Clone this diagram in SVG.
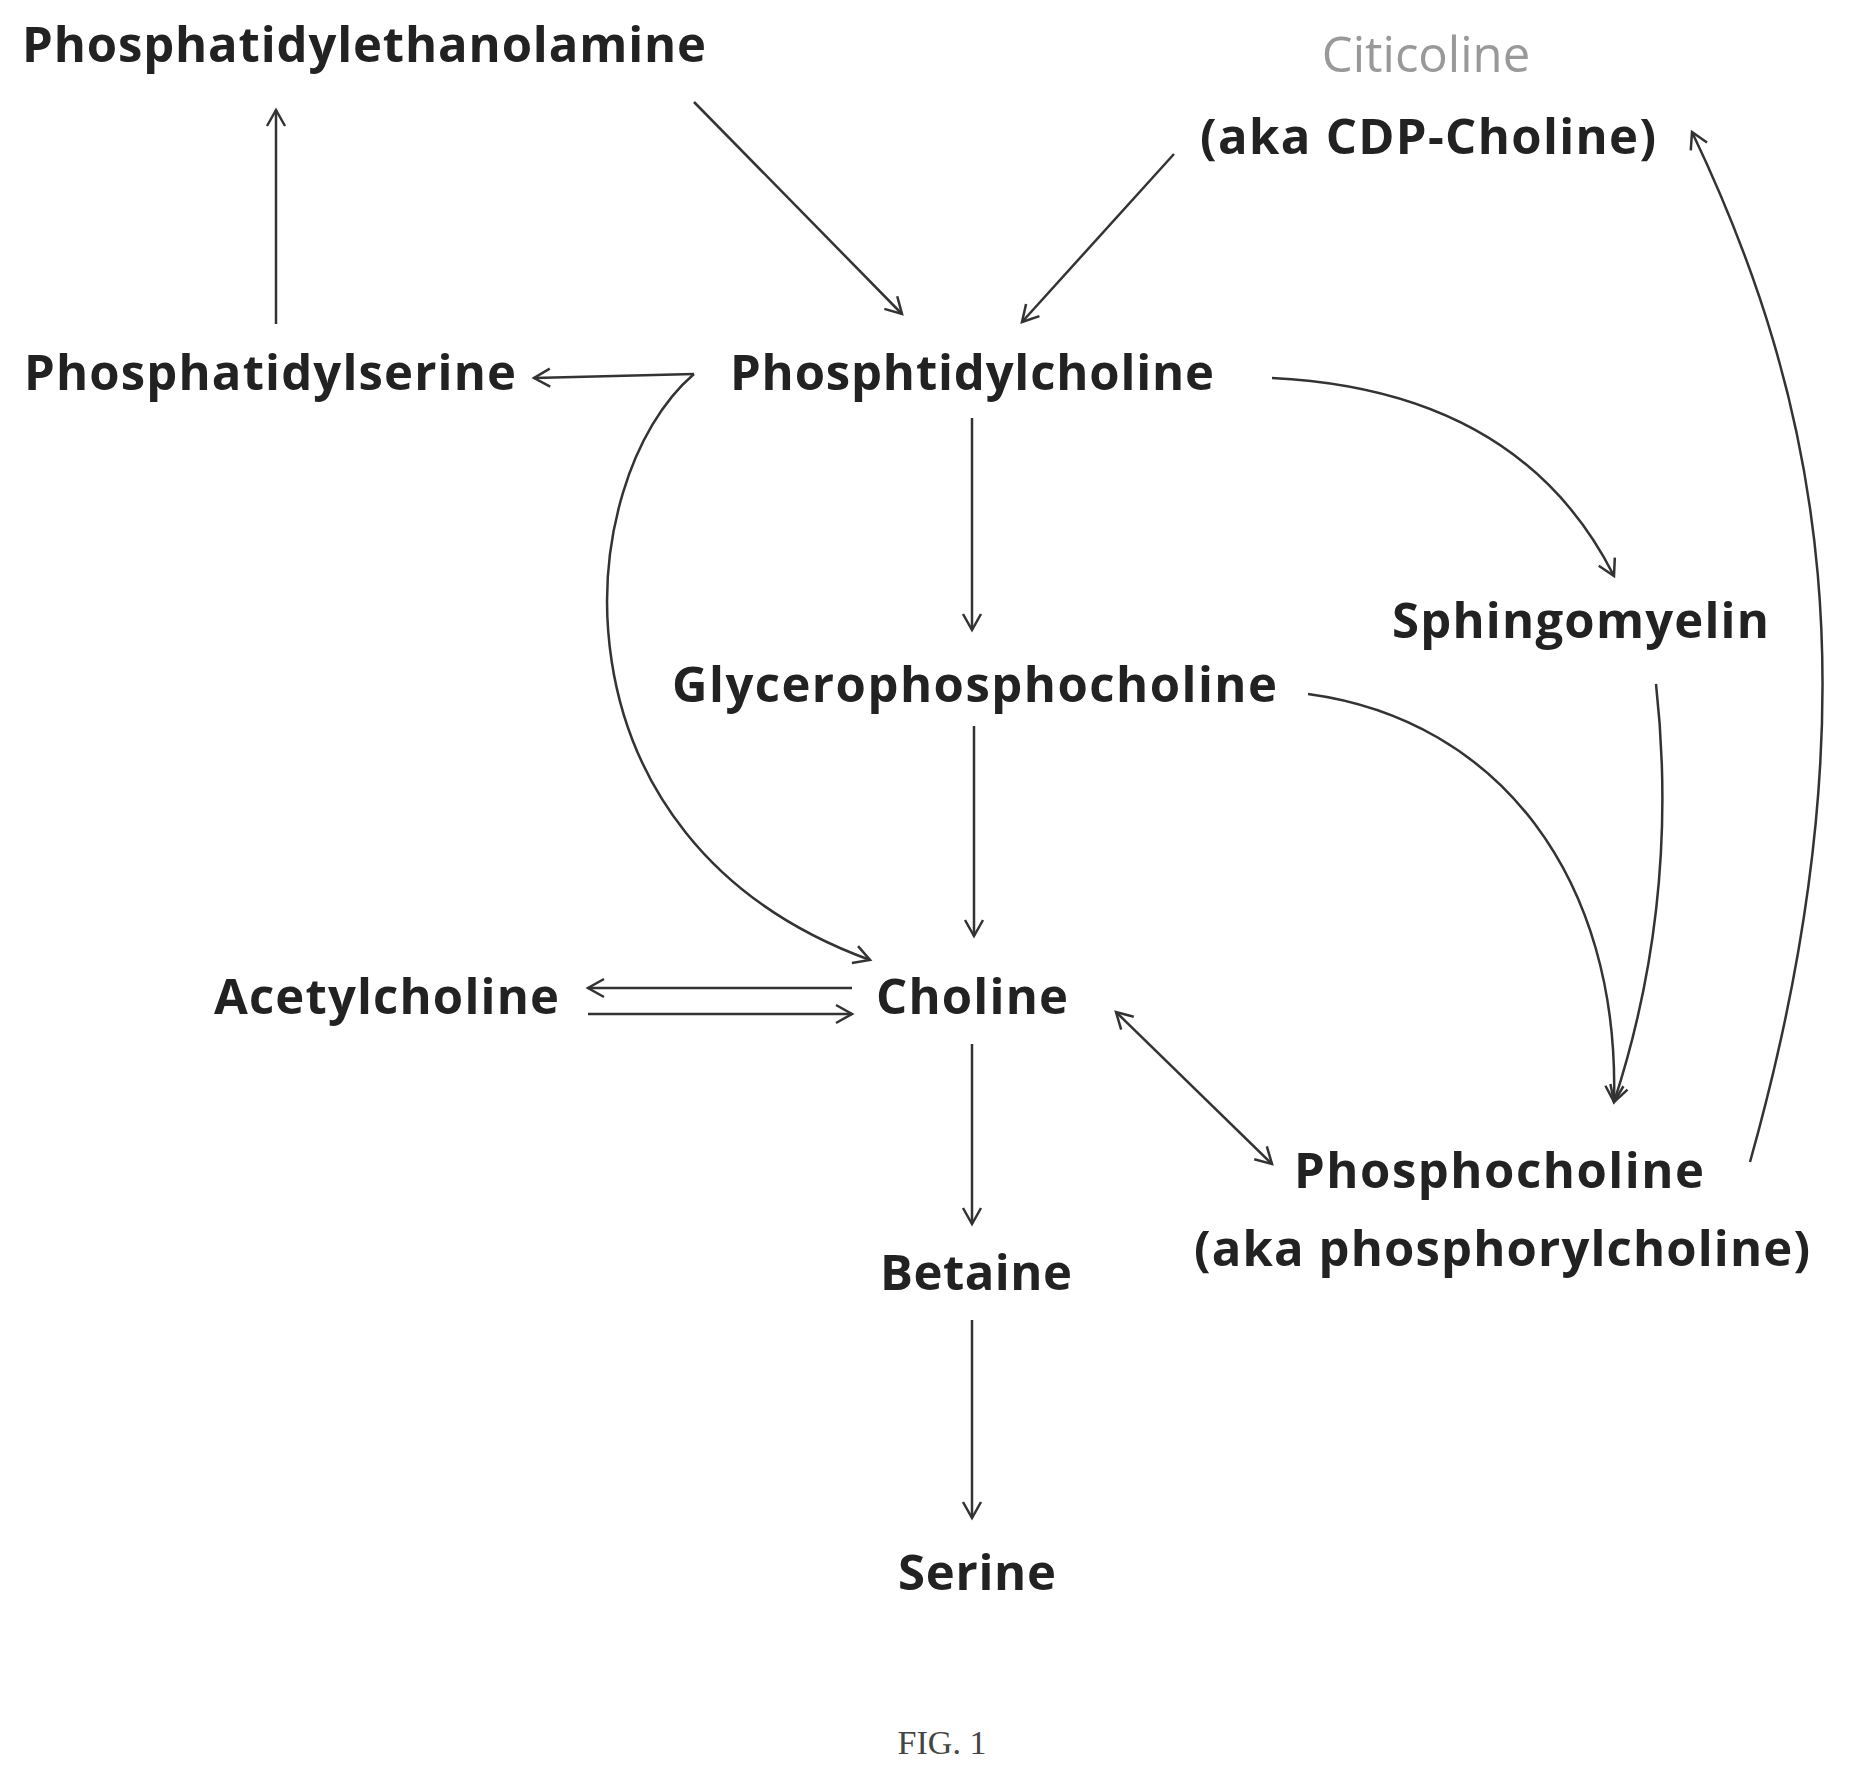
<svg xmlns="http://www.w3.org/2000/svg" width="1874" height="1773" viewBox="0 0 1874 1773">
<style>
.t{font-family:"Open Sans","Liberation Sans",sans-serif;font-weight:bold;font-size:49px;fill:#222}
.c{stroke:#333;stroke-width:2.5;fill:none;marker-end:url(#a)}
</style>
<defs>
<marker id="a" markerWidth="24" markerHeight="24" refX="20" refY="12" orient="auto" markerUnits="userSpaceOnUse"><path d="M4,3 L20,12 L4,21" fill="none" stroke="#333" stroke-width="2.5"/></marker>
<marker id="s" markerWidth="24" markerHeight="24" refX="20" refY="12" orient="auto-start-reverse" markerUnits="userSpaceOnUse"><path d="M4,3 L20,12 L4,21" fill="none" stroke="#333" stroke-width="2.5"/></marker>
</defs>
<rect width="1874" height="1773" fill="#fff"/>
<g id="pe"><text class="t" x="22" y="62" textLength="684">Phosphatidylethanolamine</text></g>
<g id="citicoline"><text class="t" x="1426" y="72" text-anchor="middle" style="font-weight:normal;fill:#999">Citicoline</text><text class="t" x="1200" y="154" textLength="456">(aka CDP-Choline)</text></g>
<g id="ps"><text class="t" x="24" y="390" textLength="492">Phosphatidylserine</text></g>
<g id="pc"><text class="t" x="730" y="390" textLength="484">Phosphtidylcholine</text></g>
<g id="sm"><text class="t" x="1392" y="638" textLength="377">Sphingomyelin</text></g>
<g id="gpc"><text class="t" x="672" y="702" textLength="605">Glycerophosphocholine</text></g>
<g id="ach"><text class="t" x="214" y="1014" textLength="345">Acetylcholine</text></g>
<g id="choline"><text class="t" x="876" y="1014" textLength="192">Choline</text></g>
<g id="phc"><text class="t" x="1294" y="1188" textLength="410">Phosphocholine</text><text class="t" x="1194" y="1266" textLength="616">(aka phosphorylcholine)</text></g>
<g id="betaine"><text class="t" x="880" y="1290" textLength="192">Betaine</text></g>
<g id="serine"><text class="t" x="898" y="1590" textLength="158">Serine</text></g>
<text x="942" y="1754" text-anchor="middle" font-family="Liberation Serif,serif" font-size="34" fill="#444">FIG. 1</text>
<g id="connectors">
<path class="c" d="M276,324 L276,110"/>
<path class="c" d="M694,102 L902,314"/>
<path class="c" d="M1174,154 L1022,322"/>
<path class="c" d="M694,374 L534,378"/>
<path class="c" d="M694,374 C570,480 540,840 870,960"/>
<path class="c" d="M972,418 L972,630"/>
<path class="c" d="M974,726 L974,936"/>
<path class="c" d="M1272,378 Q1520,390 1614,576"/>
<path class="c" d="M1308,694 C1500,720 1620,880 1614,1102"/>
<path class="c" d="M1656,684 Q1680,900 1614,1102"/>
<path class="c" d="M1750,1162 C1880,700 1820,400 1692,132"/>
<path class="c" d="M852,988 L588,988"/>
<path class="c" d="M588,1014 L852,1014"/>
<path class="c" d="M1116,1012 L1272,1164" marker-start="url(#s)"/>
<path class="c" d="M972,1044 L972,1224"/>
<path class="c" d="M972,1320 L972,1518"/>
</g>
</svg>
